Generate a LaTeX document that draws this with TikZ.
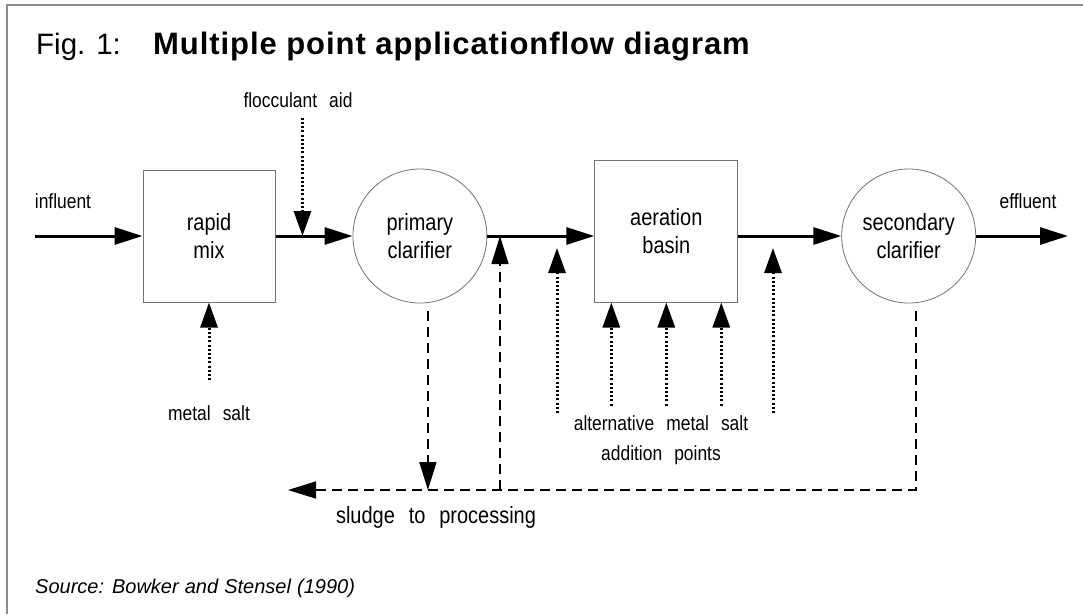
\documentclass[tikz,border=0pt]{standalone}
\usepackage{fontspec}
\setmainfont{Liberation Sans}
\newfontfamily\lblfont[FakeStretch=0.85,WordSpace=2.5]{Liberation Sans}
\newfontfamily\ttlfont[LetterSpace=3]{Liberation Sans}
\newfontfamily\srcfont[WordSpace=1.1]{Liberation Sans}
\usepackage{tikz}
\usetikzlibrary{arrows.meta,positioning,calc}
\newcommand{\lbl}{\lblfont\fontsize{20.5}{30}\selectfont}
\newcommand{\unitfont}{\lblfont\fontsize{23.5}{28}\selectfont}

\begin{document}
\begin{tikzpicture}[x=1pt,y=-1pt]
\tikzstyle{unit}=[rectangle, draw=black!55, line width=1pt, inner sep=0pt, align=center, font=\unitfont]
\tikzstyle{tank}=[circle, draw=black!55, line width=0.8pt, minimum size=134pt, inner sep=0pt, align=center, font=\unitfont]
\tikzstyle{flow}=[-{Triangle[length=28pt,width=17pt]}, line width=3pt]
\tikzstyle{dose}=[-{Triangle[length=25pt,width=17pt]}, line width=3pt, dash pattern=on 2pt off 2.2pt]
\tikzstyle{waste}=[-{Triangle[length=28pt,width=17pt]}, line width=1.6pt, dash pattern=on 10pt off 6pt]
\tikzstyle{lbl}=[font=\lbl, inner sep=0pt, align=center]
  \useasboundingbox (0,0) rectangle (1083,614);
  \draw[black!45, line width=1.5pt] (7,614) -- (7,5) -- (1083,5);
  \node[anchor=base west, inner sep=0pt, font=\fontsize{29.5}{34}\selectfont] (fig) at (36,54) {Fig. 1:};
  \node[anchor=base west, inner sep=0pt, font=\ttlfont\bfseries\fontsize{31}{36}\selectfont] (ttl) at (153,54) {Multiple point applicationflow diagram};
  % plant
  \node[unit, minimum width=132pt, minimum height=132pt] (mix) at (209,236) {rapid\\mix};
  \node[tank, right=77pt of mix] (prim) {primary\\clarifier};
  \node[unit, minimum width=143pt, minimum height=142pt, right=107pt of prim, yshift=5pt] (aer) {aeration\\basin};
  \node[tank, right=103pt of aer, yshift=-5pt] (sec) {secondary\\clarifier};
  \coordinate (in) at (35,236);
  \coordinate (out) at (1068,236);
  \draw[flow] (in) -- (mix);
  \draw[flow] (mix) -- (prim);
  \draw[flow] (prim.east) -- (prim.east -| aer.west);
  \draw[flow] (aer.east |- sec.west) -- (sec.west);
  \draw[flow] (sec) -- (out);
  \node[lbl] (infl) at (63,201) {influent};
  \node[lbl] (effl) at (1028,201) {effluent};
  % chemicals
  \node[lbl] (floc) at (298,100) {flocculant aid};
  \coordinate (fa) at ($(mix.east)!0.35!(prim.west)$);
  \draw[dose] ($(floc.south -| fa)+(0,10)$) -- (fa);
  \node[lbl] (ms) at (209,413) {metal salt};
  \draw[dose] ($(ms.north)+(0,-25)$) -- (mix.south);
  \coordinate (p1) at (557,413);
  \coordinate (p2) at (773,413);
  \draw[dose] (p1) -- ++(0,-165);
  \draw[dose] (p2) -- ++(0,-165);
  \foreach \dx in {-55,0,55}
    \draw[dose] ($(aer.south)+(\dx,103)$) -- ($(aer.south)+(\dx,0)$);
  \node[lbl] (alt) at (661,440) {alternative metal salt\\addition points};
  % sludge
  \coordinate (sl) at (288,490);
  \coordinate (r0) at (500,490);
  \coordinate (pd) at ($(prim.south)+(8,8)$);
  \draw[waste] ($(sec.south)+(7,8)$) |- (sl);
  \draw[waste] (pd) -- (pd |- sl);
  \draw[waste] (r0) -- (r0 |- prim.east);
  \node[font=\unitfont, inner sep=0pt] (proc) at (436,517) {sludge to processing};
  \node[anchor=base west, inner sep=0pt, font=\srcfont\itshape\fontsize{20}{24}\selectfont] (src) at (35,593) {Source: Bowker and Stensel (1990)};
\end{tikzpicture}
\end{document}
